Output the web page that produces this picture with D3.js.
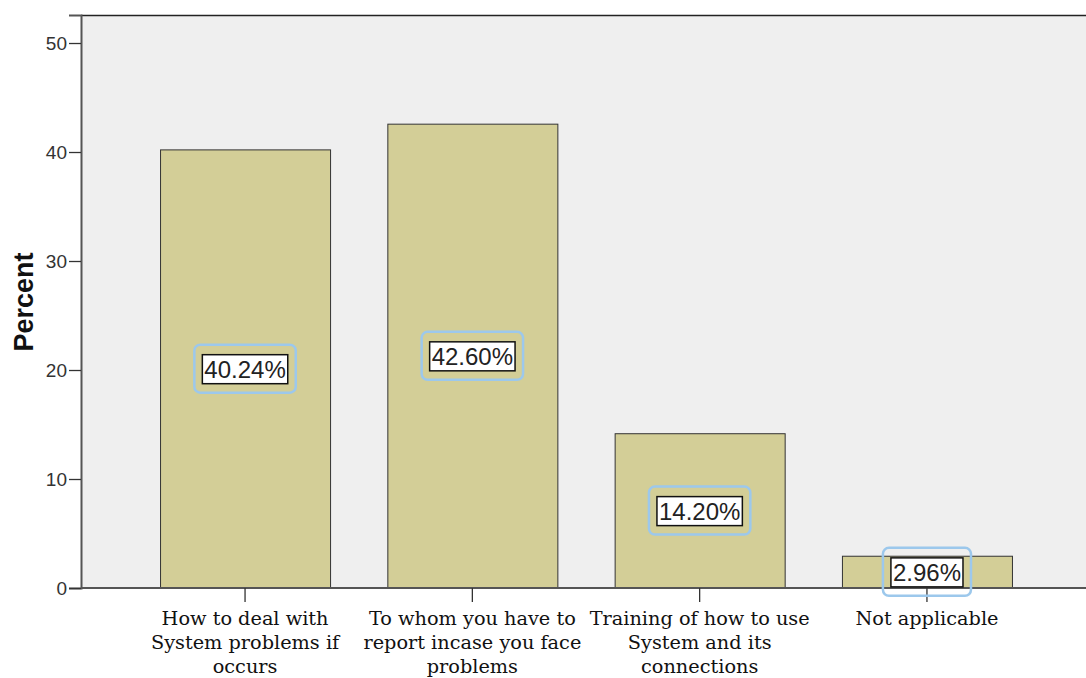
<!DOCTYPE html>
<html>
<head>
<meta charset="utf-8">
<script src="https://cdn.jsdelivr.net/npm/d3@7"></script>
<style>
  body { margin: 0; background: #fff; }
</style>
</head>
<body>
<svg id="chart" width="1086" height="678"></svg>
<script>
var categories = [
    ["How to deal with", "System problems if", "occurs"],
    ["To whom you have to", "report incase you face", "problems"],
    ["Training of how to use", "System and its", "connections"],
    ["Not applicable"]
];
var percents = [40.24, 42.60, 14.20, 2.96];
var yTicks = [0, 10, 20, 30, 40, 50];

var svg = d3.select("#chart");
var plotLeft = 81, plotTop = 15, plotRight = 1086, plotBottom = 588;

var y = d3.scaleLinear().domain([0, 52.57]).range([plotBottom, plotTop]);
var x = d3.scaleBand()
    .domain(d3.range(percents.length))
    .range([131.4, 1040.6])
    .paddingInner(0.252)
    .paddingOuter(0.126);

// plot background
svg.append("rect")
    .attr("x", plotLeft).attr("y", plotTop)
    .attr("width", plotRight - plotLeft).attr("height", plotBottom - plotTop)
    .attr("fill", "#efefef");
svg.append("line")
    .attr("x1", plotLeft).attr("x2", plotRight)
    .attr("y1", plotTop + 0.5).attr("y2", plotTop + 0.5)
    .attr("stroke", "#222").attr("stroke-width", 1.5);

// bars
svg.selectAll(".bar")
    .data(percents)
    .enter().append("rect")
    .attr("class", "bar")
    .attr("x", function (d, i) { return x(i) + 0.5; })
    .attr("y", function (d) { return y(d) + 0.5; })
    .attr("width", x.bandwidth())
    .attr("height", function (d) { return plotBottom - y(d); })
    .attr("fill", "#d3ce97")
    .attr("stroke", "#333")
    .attr("stroke-width", 1);

// y axis
var yAxis = d3.axisLeft(y).tickValues(yTicks).tickSize(12).tickPadding(2);
var gy = svg.append("g").attr("transform", "translate(" + plotLeft + ",0)").call(yAxis);
gy.select(".domain").attr("stroke", "#555").attr("stroke-width", 2);
gy.selectAll(".tick line").attr("stroke", "#333").attr("stroke-width", 1.3);
gy.selectAll(".tick text")
    .style("font-family", "Arial, 'Liberation Sans', sans-serif")
    .style("font-size", "19px").attr("fill", "#333");

// x axis
var gx = svg.append("g").attr("transform", "translate(0," + plotBottom + ")");
gx.append("line")
    .attr("x1", plotLeft).attr("x2", plotRight)
    .attr("stroke", "#555").attr("stroke-width", 2);
var ticks = gx.selectAll(".xt")
    .data(categories)
    .enter().append("g")
    .attr("class", "xt")
    .attr("transform", function (d, i) { return "translate(" + (x(i) + x.bandwidth() / 2) + ",0)"; });
ticks.append("line")
    .attr("y1", 0).attr("y2", 14)
    .attr("stroke", "#333").attr("stroke-width", 1.3);
ticks.append("text")
    .attr("text-anchor", "middle")
    .style("font-family", "'DejaVu Serif', serif")
    .style("font-size", "19.3px")
    .attr("fill", "#111")
    .selectAll("tspan")
    .data(function (d) { return d; })
    .enter().append("tspan")
    .attr("x", 0)
    .attr("y", function (d, i) { return 37 + i * 24; })
    .text(function (d) { return d; });

// y axis title
svg.append("text")
    .attr("transform", "translate(33,302) rotate(-90)")
    .attr("text-anchor", "middle")
    .style("font-family", "Arial, 'Liberation Sans', sans-serif")
    .style("font-weight", "bold")
    .style("font-size", "27px")
    .attr("fill", "#111")
    .text("Percent");

// value labels
var labels = svg.selectAll(".lbl")
    .data(percents)
    .enter().append("g")
    .attr("class", "lbl")
    .attr("transform", function (d, i) {
        return "translate(" + (x(i) + x.bandwidth() / 2) + "," + y(d / 2) + ")";
    });
labels.append("rect")
    .attr("class", "outer")
    .attr("y", -24).attr("height", 48)
    .attr("rx", 6)
    .attr("fill", "none")
    .attr("stroke", "#9cc8ec")
    .attr("stroke-width", 2.5);
labels.append("rect")
    .attr("class", "inner")
    .attr("y", -14).attr("height", 29)
    .attr("fill", "#fff")
    .attr("stroke", "#111")
    .attr("stroke-width", 1.5);
var vtext = labels.append("text")
    .attr("text-anchor", "middle")
    .attr("y", 9)
    .style("font-family", "Arial, 'Liberation Sans', sans-serif")
    .style("font-size", "24px")
    .attr("fill", "#222")
    .text(function (d) { return d.toFixed(2) + "%"; });
vtext.each(function () {
    var w = this.getComputedTextLength();
    var g = d3.select(this.parentNode);
    g.select(".inner").attr("x", -w / 2 - 2).attr("width", w + 4);
    g.select(".outer").attr("x", -w / 2 - 10).attr("width", w + 20);
});
</script>
</body>
</html>
